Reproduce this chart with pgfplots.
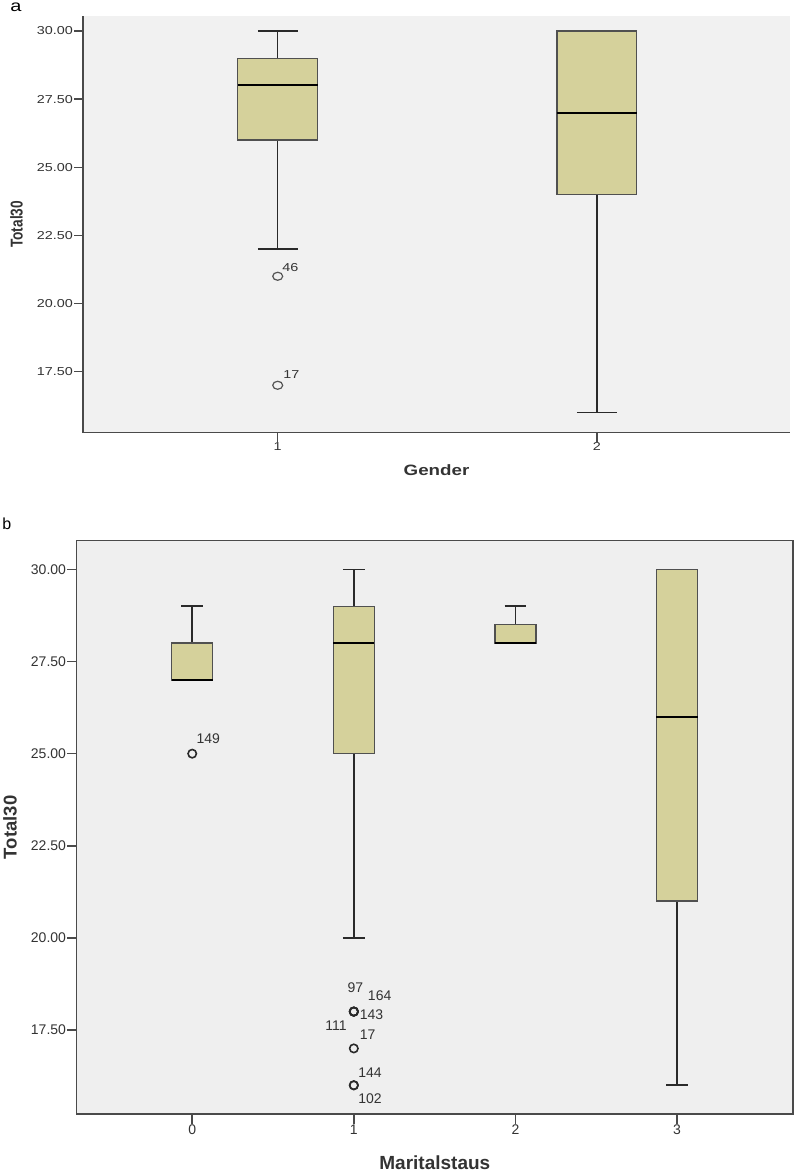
\documentclass[border=0pt]{standalone}
\usepackage{graphicx}
\usepackage{pgfplots}
\pgfplotsset{compat=1.18}
\usepgfplotslibrary{statistics}
\usepackage{fontspec}
\setmainfont{Liberation Sans}
\newfontfamily\wfont[FakeStretch=1.25]{Liberation Sans}
\definecolor{bgA}{HTML}{F1F1F1}
\definecolor{bgB}{HTML}{EFEFEF}
\definecolor{boxfill}{HTML}{D5D19B}
\definecolor{boxedge}{HTML}{505050}
\definecolor{axgray}{HTML}{4A4A4A}
\definecolor{whisk}{HTML}{2A2A2A}
\definecolor{txt}{HTML}{333333}
\definecolor{mk}{HTML}{555555}
\begin{document}
\begin{tikzpicture}
\path[use as bounding box] (0pt,0pt) rectangle (797pt,-1172pt);
\node[font=\fontsize{16}{18}\wfont, inner sep=0] at (16pt,-7pt) {a};
\node[font=\fontsize{16}{18}\selectfont, inner sep=0] at (6.7pt,-524pt) {b};

% ---------------- panel a ----------------
\begin{axis}[
  at={(83pt,-432.7pt)}, anchor=south west, scale only axis,
  width=707pt, height=416.7pt,
  xmin=0.39, xmax=2.605, ymin=15.26, ymax=30.55,
  axis x line=bottom, axis y line=left,
  axis line style={-, draw=axgray, line width=1.3pt},
  axis background/.style={fill=bgA},
  xtick={1,2}, ytick={17.5,20,22.5,25,27.5,30},
  tick align=outside, major tick length=9pt,
  tick style={draw=axgray, line width=1.3pt},
  /pgf/number format/assume math mode=true,
  y tick label style={/pgf/number format/.cd, fixed, fixed zerofill, precision=2, assume math mode=true},
  tick label style={font=\fontsize{11.5}{13}\wfont, text=txt, inner sep=1pt},
  xlabel={Gender},
  xlabel style={font=\fontsize{15}{17}\wfont\bfseries, text=txt, at={(axis description cs:0.5,-0.0895)}, anchor=center},
  ylabel={\scalebox{1}[1.25]{Total30}},
  ylabel style={font=\fontsize{13.7}{15}\selectfont\bfseries, text=txt, at={(axis description cs:-0.094,0.5)}, anchor=center},
  boxplot/draw direction=y,
  boxplot/box extend=0.25, boxplot/whisker extend=0.125,
  boxplot/every box/.style={draw=boxedge, fill=boxfill, line width=1.3pt},
  boxplot/every whisker/.style={draw=whisk, line width=1.5pt},
  boxplot/every median/.style={draw=black, line width=2pt},
]
\addplot+[draw=whisk, mark=o, mark size=4pt, mark options={draw=mk, fill=none, line width=1.2pt, xscale=1.25},
  boxplot prepared={draw position=1, lower whisker=22, lower quartile=26, median=28, upper quartile=29, upper whisker=30}]
  coordinates {(0,21) (0,17)};
\addplot+[draw=whisk, mark=o, mark size=4pt, mark options={draw=mk, fill=none, line width=1.2pt, xscale=1.25},
  boxplot prepared={draw position=2, lower whisker=16, lower quartile=24, median=27, upper quartile=30, upper whisker=30}]
  coordinates {};
\node[font=\fontsize{11.5}{13}\wfont, text=txt, inner sep=0] at (axis cs:1.04,21.33) {46};
\node[font=\fontsize{11.5}{13}\wfont, text=txt, inner sep=0] at (axis cs:1.043,17.39) {17};
\end{axis}

% ---------------- panel b ----------------
\begin{axis}[
  at={(76.7pt,-1114pt)}, anchor=south west, scale only axis,
  width=716.3pt, height=573.3pt,
  xmin=-0.715, xmax=3.718, ymin=15.22, ymax=30.78,
  axis line style={draw=axgray, line width=1.5pt},
  axis background/.style={fill=bgB},
  xtick={0,1,2,3}, ytick={17.5,20,22.5,25,27.5,30},
  xtick pos=bottom, ytick pos=left,
  tick align=outside, major tick length=9.5pt,
  tick style={draw=axgray, line width=1.5pt},
  /pgf/number format/assume math mode=true,
  y tick label style={/pgf/number format/.cd, fixed, fixed zerofill, precision=2, assume math mode=true},
  tick label style={font=\fontsize{14}{16}\selectfont, text=txt, inner sep=1pt},
  xlabel={Maritalstaus},
  xlabel style={font=\fontsize{19}{21}\selectfont\bfseries, text=txt, at={(axis description cs:0.5,-0.0846)}, anchor=center},
  ylabel={Total30},
  ylabel style={font=\fontsize{18.5}{20}\selectfont\bfseries, text=txt, at={(axis description cs:-0.093,0.5)}, anchor=center},
  boxplot/draw direction=y,
  boxplot/box extend=0.254, boxplot/whisker extend=0.134,
  boxplot/every box/.style={draw=boxedge, fill=boxfill, line width=1.4pt},
  boxplot/every whisker/.style={draw=whisk, line width=1.6pt},
  boxplot/every median/.style={draw=black, line width=2.2pt},
]
\addplot+[draw=whisk, mark=o, mark size=4.2pt, mark options={draw=whisk, fill=none, line width=1.6pt},
  boxplot prepared={draw position=0, lower whisker=27, lower quartile=27, median=27, upper quartile=28, upper whisker=29}]
  coordinates {(0,25)};
\addplot+[draw=whisk, mark=o, mark size=4.2pt, mark options={draw=whisk, fill=none, line width=1.6pt},
  boxplot prepared={draw position=1, lower whisker=20, lower quartile=25, median=28, upper quartile=29, upper whisker=30}]
  coordinates {(0,18) (0,18) (0,18) (0,18) (0,17) (0,16) (0,16)};
\addplot+[draw=whisk, mark=o, mark size=4.2pt, mark options={draw=whisk, fill=none, line width=1.6pt},
  boxplot prepared={draw position=2, lower whisker=28, lower quartile=28, median=28, upper quartile=28.5, upper whisker=29}]
  coordinates {};
\addplot+[draw=whisk, mark=o, mark size=4.2pt, mark options={draw=whisk, fill=none, line width=1.6pt},
  boxplot prepared={draw position=3, lower whisker=16, lower quartile=21, median=26, upper quartile=30, upper whisker=30}]
  coordinates {};
\begin{scope}[every node/.style={font=\fontsize{14}{16}\selectfont, text=txt, inner sep=0}]
\node at (axis cs:0.099,25.41) {149};
\node at (axis cs:1.01,18.64) {97};
\node at (axis cs:1.16,18.43) {164};
\node at (axis cs:1.11,17.91) {143};
\node at (axis cs:0.89,17.62) {111};
\node at (axis cs:1.085,17.36) {17};
\node at (axis cs:1.10,16.33) {144};
\node at (axis cs:1.10,15.63) {102};
\end{scope}
\end{axis}
\end{tikzpicture}
\end{document}
